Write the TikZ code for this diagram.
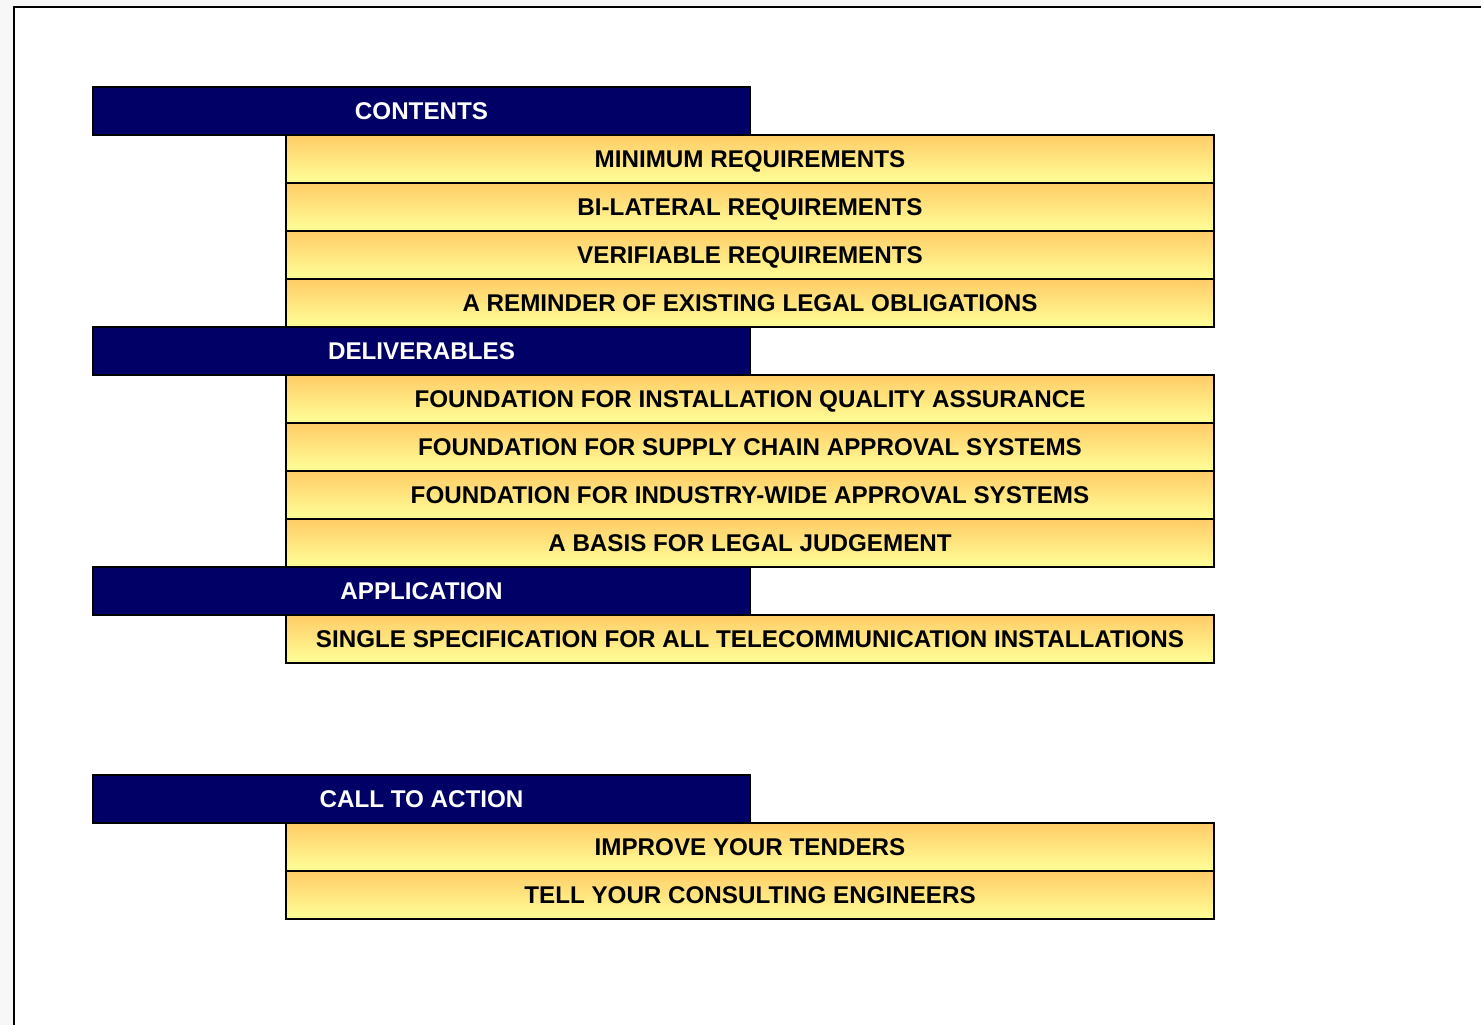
\documentclass[tikz,border=0pt]{standalone}
\usepackage{fontspec}
\setmainfont{Liberation Sans}
\definecolor{navy}{HTML}{000066}
\definecolor{yeltop}{HTML}{FFCC66}
\definecolor{yelbot}{HTML}{FFFF99}
\definecolor{pagebg}{HTML}{F7F7F7}
\tikzset{
  boxtext/.style={inner sep=0pt, text height=17.3pt, text depth=0pt, font=\fontsize{24.2}{28}\selectfont\bfseries, anchor=center},
  hdr/.style={boxtext, draw=black, line width=1.5pt, fill=navy, text=white, minimum width=657pt, minimum height=48pt},
  item/.style={boxtext, draw=black, line width=1.5pt, top color=yeltop, bottom color=yelbot, text=black, minimum width=928pt, minimum height=48pt},
}
\begin{document}
\begin{tikzpicture}[x=1pt,y=-1pt]
\useasboundingbox (0,0) rectangle (1481,1025);
\fill[pagebg] (0,0) rectangle (1481,1025);
\fill[white] (14,7) rectangle (1485,1030);
\draw[black, line width=2pt] (14,1030) -- (14,7) -- (1485,7);
% CONTENTS
\node[item] (m1) at (750,159) {MINIMUM REQUIREMENTS};
\node[item] (m2) at (750,207) {BI-LATERAL REQUIREMENTS};
\node[item] (m3) at (750,255) {VERIFIABLE REQUIREMENTS};
\node[item] (m4) at (750,303) {A REMINDER OF EXISTING LEGAL OBLIGATIONS};
\node[hdr] (h1) at (421.5,111) {CONTENTS};
% DELIVERABLES
\node[item] (d1) at (750,399) {FOUNDATION FOR INSTALLATION QUALITY ASSURANCE};
\node[item] (d2) at (750,447) {FOUNDATION FOR SUPPLY CHAIN APPROVAL SYSTEMS};
\node[item] (d3) at (750,495) {FOUNDATION FOR INDUSTRY-WIDE APPROVAL SYSTEMS};
\node[item] (d4) at (750,543) {A BASIS FOR LEGAL JUDGEMENT};
\node[hdr] (h2) at (421.5,351) {DELIVERABLES};
% APPLICATION
\node[item] (a1) at (750,639) {SINGLE SPECIFICATION FOR ALL TELECOMMUNICATION INSTALLATIONS};
\node[hdr] (h3) at (421.5,591) {APPLICATION};
% CALL TO ACTION
\node[item] (c1) at (750,847) {IMPROVE YOUR TENDERS};
\node[item] (c2) at (750,895) {TELL YOUR CONSULTING ENGINEERS};
\node[hdr] (h4) at (421.5,799) {CALL TO ACTION};
\end{tikzpicture}
\end{document}
